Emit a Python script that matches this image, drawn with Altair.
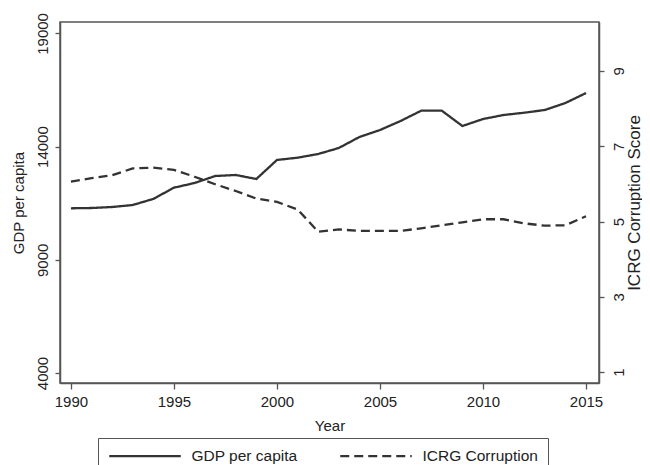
import altair as alt
import pandas as pd

years = list(range(1990, 2016))
gdp = [11275, 11288, 11332, 11420, 11690, 12185, 12392, 12701, 12746, 12570,
       13410, 13510, 13673, 13938, 14424, 14733, 15131, 15586, 15586, 14910,
       15219, 15396, 15498, 15617, 15926, 16367]
icrg = [6.06, 6.15, 6.23, 6.41, 6.43, 6.37, 6.19, 5.99, 5.81, 5.61,
        5.52, 5.32, 4.73, 4.79, 4.75, 4.75, 4.75, 4.82, 4.90, 4.98,
        5.06, 5.06, 4.95, 4.89, 4.90, 5.14]
series_names = ["GDP per capita", "ICRG Corruption"]
x_ticks = [1990, 1995, 2000, 2005, 2010, 2015]
gdp_ticks = [4000, 9000, 14000, 19000]
icrg_ticks = [1, 3, 5, 7, 9]

df = pd.DataFrame({
    "Year": years * 2,
    "value": gdp + icrg,
    "series": [series_names[0]] * len(years) + [series_names[1]] * len(years),
})

FONT = "Liberation Sans"
INK = "#222222"
LINE = "#333333"
FRAME = "#555555"

legend = alt.Legend(
    title=None,
    orient="none",
    legendX=38,
    legendY=416,
    direction="horizontal",
    symbolType="M-1.3,0H13",
    symbolSize=100,
    symbolStrokeWidth=2.2,
    labelFont=FONT,
    labelFontSize=15.5,
    labelColor=INK,
    labelOffset=68,
    columnPadding=37,
    padding=10,
    strokeColor=FRAME,
    fillColor="white",
)

color = alt.Color("series:N", scale=alt.Scale(domain=series_names, range=[LINE, LINE]), legend=legend)
dash = alt.StrokeDash("series:N", scale=alt.Scale(domain=series_names, range=[[1, 0], [9, 5]]), legend=legend)

x = alt.X(
    "Year:Q",
    scale=alt.Scale(domain=[1989.47, 2015.63], nice=False, zero=False),
    axis=alt.Axis(values=x_ticks, format="d", title="Year", tickSize=6, labelPadding=5,
                  titleY=47, titleBaseline="alphabetic"),
)

base = alt.Chart(df)

gdp_line = base.transform_filter(alt.datum.series == series_names[0]).mark_line(strokeWidth=2.3).encode(
    x=x,
    y=alt.Y("value:Q",
            scale=alt.Scale(domain=[3558, 19504], nice=False, zero=False),
            axis=alt.Axis(orient="left", values=gdp_ticks, format="d", title="GDP per capita",
                          labelAngle=270, labelAlign="center", labelBaseline="alphabetic",
                          labelPadding=8, titleAngle=270, titleX=-41.5, titleY=180.5,
                          titleAlign="center", titleBaseline="middle")),
    color=color,
    strokeDash=dash,
)

icrg_line = base.transform_filter(alt.datum.series == series_names[1]).mark_line(strokeWidth=2.3).encode(
    x=x,
    y=alt.Y("value:Q",
            scale=alt.Scale(domain=[0.71, 10.30], nice=False, zero=False),
            axis=alt.Axis(orient="right", values=icrg_ticks, format="d", title="ICRG Corruption Score",
                          labelAngle=270, labelAlign="center", labelBaseline="top",
                          labelPadding=7, titleAngle=270, titleX=35, titleY=180.5,
                          titleAlign="center", titleBaseline="middle", titleFontSize=17)),
    color=color,
    strokeDash=dash,
)

chart = alt.layer(gdp_line, icrg_line).resolve_scale(y="independent").properties(
    width=539,
    height=361,
    autosize=alt.AutoSizeParams(type="none"),
    padding={"left": 52, "top": 14, "right": 43, "bottom": 82},
    background="white",
).configure_view(
    stroke=FRAME, strokeWidth=1.5
).configure_axis(
    labelFont=FONT, titleFont=FONT, labelFontSize=15, titleFontSize=15,
    labelColor=INK, titleColor=INK, titleFontWeight="normal",
    tickColor=FRAME, domainColor=FRAME, tickSize=5, tickWidth=1.3, domainWidth=1.5, grid=False,
)

chart.save("out.html", embed_options={"renderer": "svg", "actions": False})
